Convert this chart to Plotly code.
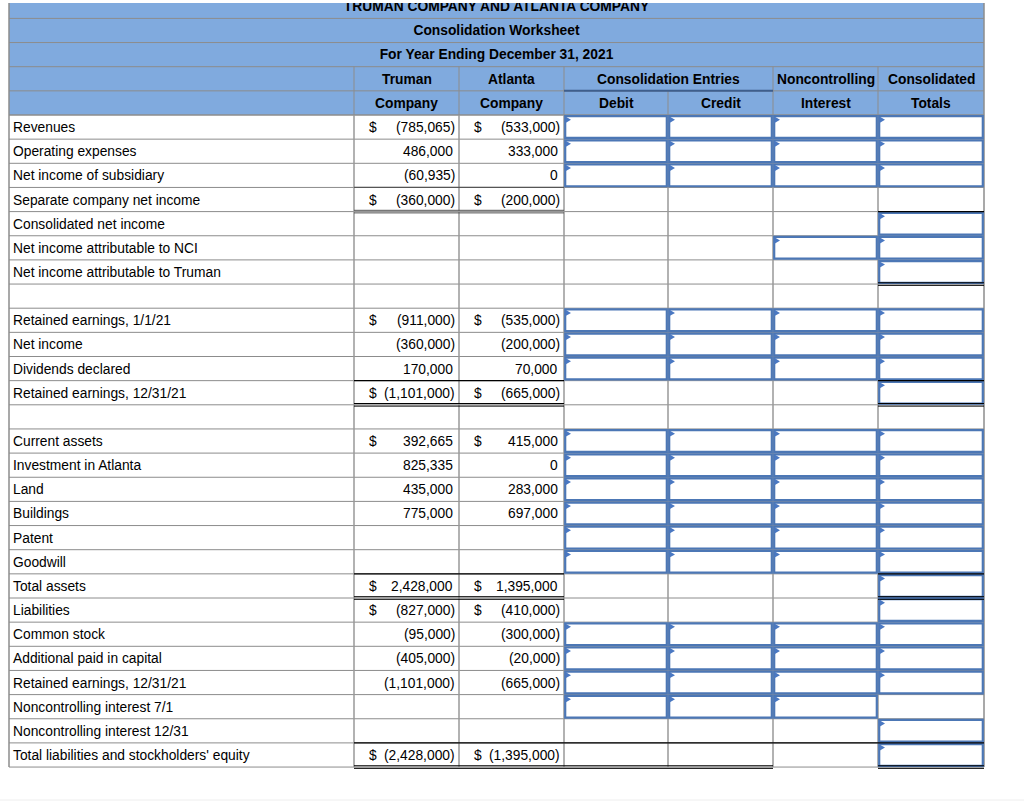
import plotly.graph_objects as go

# ---------------- data ----------------
title_lines = ["TRUMAN COMPANY AND ATLANTA COMPANY",
               "Consolidation Worksheet",
               "For Year Ending December 31, 2021"]
head_row1 = ["Truman", "Atlanta", "Consolidation Entries", "Noncontrolling", "Consolidated"]
head_row2 = ["Company", "Company", "Debit", "Credit", "Interest", "Totals"]

labels = [
    "Revenues", "Operating expenses", "Net income of subsidiary", "Separate company net income",
    "Consolidated net income", "Net income attributable to NCI", "Net income attributable to Truman",
    "",
    "Retained earnings, 1/1/21", "Net income", "Dividends declared", "Retained earnings, 12/31/21",
    "",
    "Current assets", "Investment in Atlanta", "Land", "Buildings", "Patent", "Goodwill",
    "Total assets", "Liabilities", "Common stock", "Additional paid in capital",
    "Retained earnings, 12/31/21", "Noncontrolling interest 7/1", "Noncontrolling interest 12/31",
    "Total liabilities and stockholders' equity",
]
truman = [-785065, 486000, -60935, -360000, None, None, None,
          None,
          -911000, -360000, 170000, -1101000,
          None,
          392665, 825335, 435000, 775000, None, None,
          2428000, -827000, -95000, -405000, -1101000, None, None, -2428000]
atlanta = [-533000, 333000, 0, -200000, None, None, None,
           None,
           -535000, -200000, 70000, -665000,
           None,
           415000, 0, 283000, 697000, None, None,
           1395000, -410000, -300000, -20000, -665000, None, None, -1395000]
dollar_rows = [0, 3, 8, 11, 13, 19, 20, 26]
# input cells: Debit, Credit, Noncontrolling Interest, Consolidated Totals
inputs = ["1111", "1111", "1111", "0000", "0001", "0011", "0001",
          "0000",
          "1111", "1111", "1111", "0001",
          "0000",
          "1111", "1111", "1111", "1111", "1111", "1111",
          "0001", "0001", "1111", "1111", "1111", "1110", "0001", "0001"]

# ---------------- geometry / style ----------------
col_edges = [9, 354, 459, 564, 668, 773, 878, 984]
row_h = 24.15
body_top = 115.0
n_rows = len(labels)
hdr_top = body_top - 5 * row_h
body_bot = body_top + n_rows * row_h

HDR_BLUE = "#80AADE"
GRID = "#8c8c8c"
BOX = "#4C77B5"
FLAG = "#4A78C2"
FONT = "Liberation Sans, Arial, Helvetica, sans-serif"
FS = 13.8
W, H = 1024, 803
TOP_CUT = 3  # the page shows the worksheet cut off 3px from the top


def rt(i):
    return body_top + i * row_h


def rb(i):
    return body_top + (i + 1) * row_h


shapes = []
ann = []


def line(x0, y0, x1, y1, color=GRID, w=1):
    shapes.append(dict(type="line", xref="x", yref="y", x0=x0, y0=y0, x1=x1, y1=y1,
                       line=dict(color=color, width=w), layer="below"))


def rect(x0, y0, x1, y1, fill, lc=None, lw=0):
    d = dict(type="rect", xref="x", yref="y", x0=x0, y0=y0, x1=x1, y1=y1,
             fillcolor=fill, layer="below")
    d["line"] = dict(color=lc, width=lw) if lc else dict(width=0)
    shapes.append(d)


def text(x, y, s, anchor="center", bold=False):
    ann.append(dict(x=x, y=y, xref="x", yref="y", text=("<b>%s</b>" % s) if bold else s,
                    showarrow=False, xanchor=anchor, yanchor="middle", borderpad=0,
                    font=dict(family=FONT, size=FS, color="#000000")))


# header background
rect(col_edges[0], hdr_top, col_edges[-1], body_top, HDR_BLUE)
# body background
rect(col_edges[0], body_top, col_edges[-1], body_bot, "#ffffff")

# header grid
for k in range(1, 6):
    y = hdr_top + k * row_h
    line(col_edges[0], y, col_edges[-1], y)
for e in [354, 459, 564, 773, 878]:
    line(e, hdr_top + 3 * row_h, e, body_top)
line(668, hdr_top + 4 * row_h, 668, body_top)
line(564, hdr_top + 4 * row_h, 773, hdr_top + 4 * row_h, "#3E5E8C", 2)

# body grid
for i in range(n_rows + 1):
    line(col_edges[0], rt(i), col_edges[-1], rt(i))
for e in col_edges[1:-1]:
    line(e, body_top, e, body_bot, "#999999", 1.5)
# outer borders
line(col_edges[0], hdr_top, col_edges[0], body_bot, GRID, 1.5)
line(col_edges[-1], hdr_top, col_edges[-1], body_bot, GRID, 1.5)

# input boxes (+ corner flags collected for a filled scatter trace)
flag_x, flag_y = [], []
for i, flags in enumerate(inputs):
    for j, f in enumerate(flags):
        if f != "1":
            continue
        xl, xr = col_edges[3 + j], col_edges[4 + j]
        yt, yb = rt(i), rb(i)
        rect(xl + 1.2, yt + 1.2, xr - 1.2, yb - 1.2, "#ffffff", BOX, 2.2)
        flag_x += [xl + 1.5, xl + 7.0, xl + 1.5, xl + 1.5, None]
        flag_y += [yt + 1.5, yt + 4.7, yt + 7.9, yt + 1.5, None]


# total / subtotal rules
def single(x0, x1, y, color="#000000", w=1.3):
    line(x0, y, x1, y, color, w)


def double(x0, x1, y, color="#000000"):
    line(x0, y - 1.3, x1, y - 1.3, color, 1)
    line(x0, y + 1.3, x1, y + 1.3, color, 1)


single(354, 564, rt(3), "#555555", 1.3)
double(354, 564, rb(3), "#555555")
single(878, 984, rt(4))
double(878, 984, rb(6))
for x0, x1 in [(354, 564), (878, 984)]:
    single(x0, x1, rt(11))
    double(x0, x1, rb(11))
    single(x0, x1, rt(19))
    double(x0, x1, rb(19))
single(773, 878, rb(25))
for x0, x1 in [(354, 773), (878, 984)]:
    single(x0, x1, rt(26))
    double(x0, x1, rb(26))

# faint rule near the bottom of the page
line(0, 800, W, 800, "#eeeeee", 1)

# header text (title lines drawn as a clipped text trace so the first one is cut at the top)
mid_all = (col_edges[0] + col_edges[-1]) / 2
title_y = [hdr_top + (k + 0.5) * row_h + 0.8 for k in range(len(title_lines))]
r4 = hdr_top + 3.5 * row_h + 0.5
r5 = hdr_top + 4.5 * row_h + 0.5
spans1 = [(354, 459), (459, 564), (564, 773), (773, 878), (878, 984)]
for (a, b), s in zip(spans1, head_row1):
    text((a + b) / 2, r4, s, bold=True)
for j, s in enumerate(head_row2):
    text((col_edges[1 + j] + col_edges[2 + j]) / 2, r5, s, bold=True)


# body text
def fmt(v):
    return "(%s)" % format(-v, ",") if v < 0 else format(v, ",")


for i, lab in enumerate(labels):
    yc = (rt(i) + rb(i)) / 2 + 0.5
    if lab:
        text(col_edges[0] + 2.5, yc, lab, anchor="left")
    for vals, ci in [(truman, 1), (atlanta, 2)]:
        v = vals[i]
        if v is None:
            continue
        xr = col_edges[ci + 1]
        text(xr - 3 if v < 0 else xr - 5, yc, fmt(v), anchor="right")
        if i in dollar_rows:
            text(col_edges[ci] + 13.5, yc, "$", anchor="left")

fig = go.Figure()
fig.add_trace(go.Scatter(x=flag_x, y=flag_y, mode="lines", fill="toself",
                         fillcolor=FLAG, line=dict(width=0, color=FLAG),
                         hoverinfo="skip", showlegend=False))
fig.add_trace(go.Scatter(x=[mid_all] * len(title_lines), y=title_y, mode="text",
                         text=title_lines, textposition="middle center", cliponaxis=True,
                         textfont=dict(family=FONT, size=FS, color="#000000", weight="bold"),
                         hoverinfo="skip", showlegend=False))
fig.update_layout(
    width=W, height=H,
    margin=dict(l=0, r=0, t=TOP_CUT, b=0),
    paper_bgcolor="#ffffff", plot_bgcolor="#ffffff",
    xaxis=dict(range=[0, W], visible=False, fixedrange=True),
    yaxis=dict(range=[H, TOP_CUT], visible=False, fixedrange=True),
    shapes=shapes, annotations=ann, showlegend=False,
)
fig.write_html("out.html", config={"displayModeBar": False},
               post_script="document.body.style.margin='0';document.body.style.overflow='hidden';")
